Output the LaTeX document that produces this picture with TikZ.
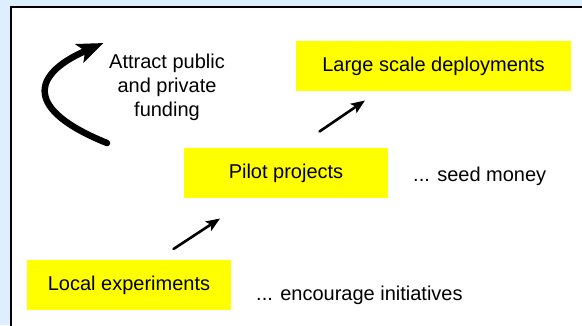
\documentclass[tikz,border=0pt]{standalone}
\usepackage{fontspec}
\setmainfont{Liberation Sans}
\usetikzlibrary{arrows.meta}
\definecolor{pagebg}{RGB}{221,238,255}
\definecolor{boxyellow}{RGB}{255,255,0}
\begin{document}
\begin{tikzpicture}[x=1pt,y=-1pt,
  stagebox/.style={fill=boxyellow,inner sep=0pt,font=\fontsize{20}{24}\selectfont},
  plain/.style={inner sep=0pt,font=\fontsize{20}{24}\selectfont},
  growarrow/.style={line width=2.6pt,line cap=round,-{Stealth[length=14pt,width=11pt,inset=3pt]}},
  looparrow/.style={line width=6.5pt,line cap=round,-{Stealth[length=26pt,width=20pt,inset=6pt]}}]
  % canvas and panel
  \useasboundingbox (0,0) rectangle (582,325);
  \fill[pagebg] (0,0) rectangle (582,325);
  \begin{scope}
    \clip (0,0) rectangle (582,325);
    \draw[line width=2.2pt,fill=white] (10.6,6.7) rectangle (600,340);
  \end{scope}
  % stages
  \node[stagebox,minimum width=275pt,minimum height=50pt] (large) at (433.5,66) {Large scale deployments};
  \node[stagebox,minimum width=204pt,minimum height=50pt] (pilot) at (286,173) {Pilot projects};
  \node[stagebox,minimum width=204pt,minimum height=50pt] (local) at (129,285) {Local experiments};
  % side remarks
  \node[plain,anchor=west] (seed) at (413,176) {... seed money};
  \node[plain,anchor=west] (encourage) at (256,295) {... encourage initiatives};
  \node[plain,align=center] (attract) at (167,87) {Attract public\\and private\\funding};
  % step arrows
  \coordinate (up1s) at (173.5,249);
  \coordinate (up1e) at (220,218.5);
  \coordinate (up2s) at (319.5,131.5);
  \coordinate (up2e) at (365,100.5);
  \draw[growarrow] (up1s) -- (up1e);
  \draw[growarrow] (up2s) -- (up2e);
  % funding loop
  \coordinate (loops) at (107,143);
  \coordinate (loope) at (103.5,43);
  \draw[looparrow] (loops) .. controls (25,110) and (30,75) .. (loope);
\end{tikzpicture}
\end{document}
